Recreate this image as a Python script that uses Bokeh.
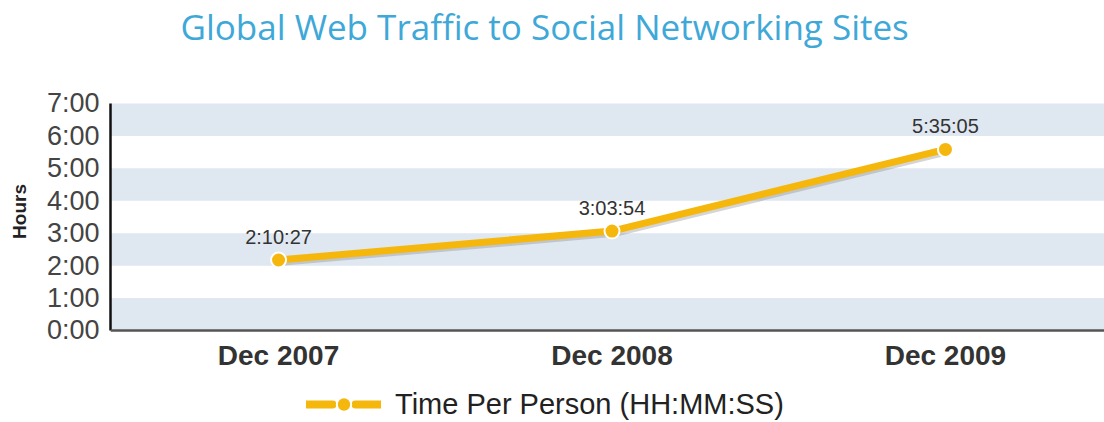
from bokeh.plotting import figure
from bokeh.models import (Range1d, FixedTicker, ColumnDataSource, LabelSet, Label,
                          Legend, LegendItem, Span, BoxAnnotation)
from bokeh.core.properties import value
from bokeh.embed import file_html
from bokeh.resources import INLINE

# ---- data ----
categories = ["Dec 2007", "Dec 2008", "Dec 2009"]
hours = [2 + 10/60 + 27/3600, 3 + 3/60 + 54/3600, 5 + 35/60 + 5/3600]
value_labels = ["2:10:27", "3:03:54", "5:35:05"]
y_ticks = [0, 1, 2, 3, 4, 5, 6, 7]
y_tick_labels = ["0:00", "1:00", "2:00", "3:00", "4:00", "5:00", "6:00", "7:00"]
series_name = "Time Per Person (HH:MM:SS)"
title_text = "Global Web Traffic to Social Networking Sites"

GOLD = "#f5b70c"
BAND = "#dfe7f0"

x = list(range(len(categories)))

p = figure(width=1104, height=422, output_backend="svg", toolbar_location=None,
           x_range=Range1d(-0.504, 2.477), y_range=Range1d(-2.837, 10.176),
           min_border_left=110, min_border_right=0, min_border_top=0,
           min_border_bottom=0)
p.outline_line_color = None
p.xaxis.visible = False
p.xgrid.visible = False
p.ygrid.visible = False

# alternating bands: 0-1, 2-3, 4-5, 6-7
for i in range(0, len(y_ticks) - 1, 2):
    p.add_layout(BoxAnnotation(bottom=y_ticks[i], top=y_ticks[i + 1], fill_color=BAND,
                               fill_alpha=1.0, line_color=None, level="underlay"))

# y axis
p.yaxis.ticker = FixedTicker(ticks=y_ticks)
p.yaxis.bounds = (y_ticks[0], y_ticks[-1])
p.yaxis.major_label_overrides = {t: l for t, l in zip(y_ticks, y_tick_labels)}
p.yaxis.major_label_text_font = "Liberation Sans"
p.yaxis.major_label_text_font_size = "27px"
p.yaxis.major_label_text_color = "#444444"
p.yaxis.major_label_standoff = 5
p.yaxis.major_tick_line_color = None
p.yaxis.minor_tick_line_color = None
p.yaxis.axis_line_color = "#111111"
p.yaxis.axis_line_width = 2.5
p.yaxis.axis_label = "Hours"
p.yaxis.axis_label_text_font = "Liberation Sans"
p.yaxis.axis_label_text_font_size = "19px"
p.yaxis.axis_label_text_font_style = "bold"
p.yaxis.axis_label_text_color = "#222222"
p.yaxis.axis_label_standoff = 14

# x axis line and category labels
p.add_layout(Span(location=y_ticks[0], dimension="width", line_color="#555555",
                  line_width=2.5))
cat_src = ColumnDataSource(dict(x=x, y=[y_ticks[0]] * len(x), t=categories))
p.add_layout(LabelSet(x="x", y="y", text="t", source=cat_src, text_align="center",
                      text_baseline="middle", y_offset=-25,
                      text_font=value("Liberation Sans"), text_font_size="28px",
                      text_font_style="bold", text_color="#333333"))

# title
p.add_layout(Label(x=70, y=396, x_units="screen", y_units="screen", text=title_text,
                   text_align="left", text_baseline="middle",
                   text_font="Open Sans", text_font_size="35px",
                   text_color="#3ea8d8"))

# shadow
p.line([v + 0.008 for v in x], [h - 0.07 for h in hours], line_color="#888888",
       line_alpha=0.35, line_width=7)
# main line
p.line(x, hours, line_color=GOLD, line_width=7)
p.scatter(x, hours, size=15, fill_color=GOLD, line_color="white", line_width=2)

# value labels
src = ColumnDataSource(dict(x=x, y=hours, t=value_labels))
p.add_layout(LabelSet(x="x", y="y", text="t", source=src, text_align="center",
                      text_baseline="middle", y_offset=23,
                      text_font=value("Liberation Sans"), text_font_size="20px",
                      text_color="#333333"))

# legend glyph renderers (hidden on the plot, drawn in the legend only)
lg_line = p.line(x, hours, line_color=GOLD, line_width=8, line_dash="26 23",
                 line_cap="round", visible=False)
lg_dot = p.scatter(x, hours, size=15, fill_color=GOLD, line_color="white",
                   line_width=2, visible=False)
legend = Legend(items=[LegendItem(label=series_name, renderers=[lg_line, lg_dot])],
                location=(196, 0), orientation="horizontal",
                glyph_width=75, glyph_height=36, label_standoff=14,
                label_text_font="Liberation Sans", label_text_font_size="29px",
                label_text_color="#222222", border_line_color=None,
                background_fill_alpha=0, inactive_fill_alpha=0,
                padding=2, margin=0)
p.add_layout(legend)

open("out.html", "w").write(file_html(p, INLINE))
